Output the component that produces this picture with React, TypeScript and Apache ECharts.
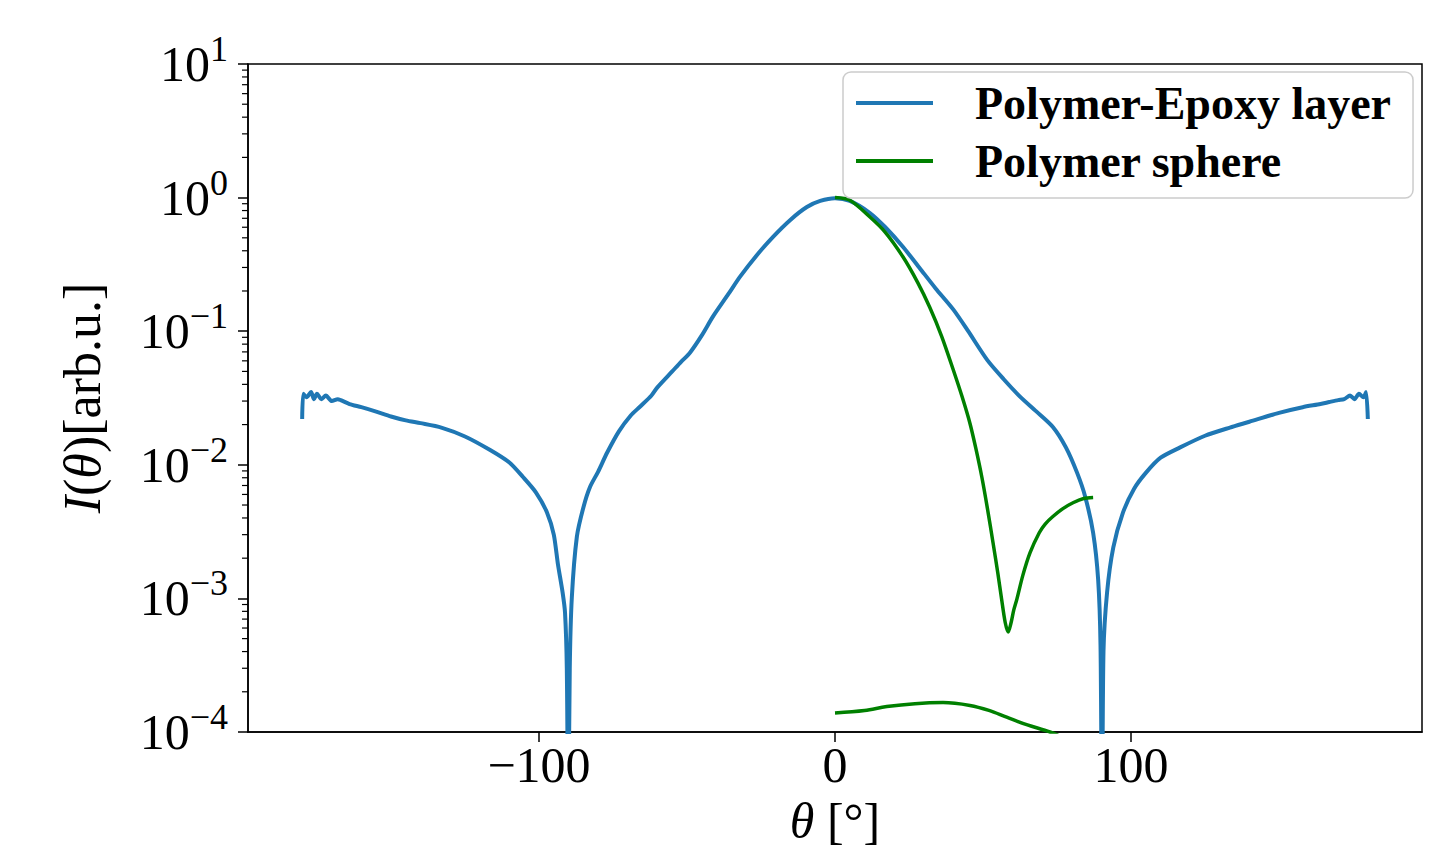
import React, { useEffect, useRef } from "react";
import * as echarts from "echarts";

const thetaBlue = [
  -180, -179.6, -178.5, -177, -176, -175, -173.5, -172, -170, -168, -167, -164, -160, -155, -150, -145, -140, -133,
  -125, -116.5, -110, -105.4, -101, -97.3, -95, -93.6, -92, -91.2, -90.6, -90.1, -89.6, -88.9, -87.2, -85, -82.8,
  -80, -77, -73, -69, -65.9, -62, -60, -55, -52, -49, -45, -41.2, -36, -32, -26, -21, -15, -9.5, -5, 0,
  5, 11.8, 17, 23, 28.7, 34, 40, 45, 51.4, 57, 62.5, 68, 73.6, 78, 81.8, 84.5, 87.2, 88.9, 89.7, 90.2, 90.7,
  91.9, 94, 97.3, 101, 105, 110, 116.6, 125, 133.4, 140, 150, 158, 164, 167, 170, 172, 174, 175.5, 177, 178.5,
  179.4, 180,
];
const intensityBlue = [
  0.022, 0.034, 0.032, 0.035, 0.031, 0.034, 0.031, 0.033, 0.030, 0.031, 0.0305, 0.0285, 0.027, 0.025, 0.023,
  0.0215, 0.0205, 0.019, 0.0163, 0.0129, 0.0104, 0.0081, 0.0062, 0.0044, 0.0030, 0.0018, 0.0011, 0.00078,
  0.0003, 0.00002, 0.0003, 0.00102, 0.0029, 0.0048, 0.0068, 0.0089, 0.0123, 0.0178, 0.0234, 0.0272, 0.033,
  0.038, 0.050, 0.059, 0.069, 0.093, 0.129, 0.19, 0.257, 0.38, 0.507, 0.684, 0.85, 0.944, 0.99,
  0.944, 0.767, 0.6, 0.427, 0.295, 0.209, 0.145, 0.1, 0.061, 0.0437, 0.0324, 0.0251, 0.0192, 0.0135, 0.0087,
  0.0058, 0.0031, 0.00138, 0.00044, 0.00002, 0.0004, 0.0011, 0.0024, 0.0044, 0.0066, 0.0087, 0.0113, 0.0135,
  0.0165, 0.019, 0.021, 0.0245, 0.027, 0.0285, 0.0295, 0.0305, 0.031, 0.033, 0.031, 0.034, 0.032, 0.035, 0.022,
];

// Polymer sphere (calculated), upper branch
const thetaGreenA = [
  0, 5, 11.8, 17, 23, 28, 32, 36, 40, 43, 45.6, 47.6, 49.6, 51.5, 53.4, 55, 56.3, 57.5, 58.5, 59.5, 60.4, 61.4,
  63.5, 65.9, 69, 71, 73.6, 77, 80.4, 84, 87.2,
];
const intensityGreenA = [
  1.0, 0.955, 0.716, 0.55, 0.359, 0.23, 0.151, 0.092, 0.051, 0.032, 0.0204, 0.0132, 0.0081, 0.0047, 0.0026,
  0.00155, 0.00098, 0.00066, 0.00056, 0.00066, 0.00082, 0.00098, 0.0015, 0.0022, 0.0031, 0.0036, 0.0041, 0.0047,
  0.0052, 0.0056, 0.0057,
];

// Polymer sphere, lower branch
const thetaGreenB = [0, 10, 17.5, 27, 36.5, 45.6, 52, 58, 65, 72.6, 80, 87.2];
const intensityGreenB = [
  1.39e-4, 1.45e-4, 1.55e-4, 1.63e-4, 1.66e-4, 1.58e-4, 1.45e-4, 1.29e-4, 1.13e-4, 1.0e-4, 0.85e-4, 0.72e-4,
];

const xTicks = [-100, 0, 100];
const yTicks = [1e-4, 1e-3, 1e-2, 1e-1, 1e0, 1e1];
const minorDecades = [1e-4, 1e-3, 1e-2, 1e-1, 1e0];
const minorMultipliers = [2, 3, 4, 5, 6, 7, 8, 9];
const yMinorTicks = minorDecades.flatMap((d) => minorMultipliers.map((m) => m * d));

const seriesNames = ["Polymer-Epoxy layer", "Polymer sphere"];

const FONT = "Liberation Serif";

export default function App() {
  const ref = useRef<HTMLDivElement>(null);

  useEffect(() => {
    if (!ref.current) return;
    const chart = echarts.init(ref.current, undefined, { renderer: "svg" });

    const zip = (xs: number[], ys: number[]) => xs.map((x, i) => [x, ys[i]]);

    const supText = (v: number) => {
      const e = Math.round(Math.log10(v));
      const s = e < 0 ? "\u2212" + -e : String(e);
      return `{b|10}{s|${s}}`;
    };

    chart.setOption({
      animation: false,
      backgroundColor: "#ffffff",
      grid: {
        left: 248,
        right: 20,
        top: 64,
        bottom: 132,
        show: true,
        borderColor: "#000",
        borderWidth: 1.5,
        backgroundColor: "transparent",
      },
      legend: {
        data: seriesNames,
        orient: "vertical",
        left: 843,
        top: 72,
        padding: [8, 22, 14, 13],
        itemGap: 12,
        itemWidth: 77,
        itemHeight: 4,
        icon: "rect",
        selectedMode: false,
        borderColor: "#cccccc",
        borderWidth: 1.5,
        borderRadius: 8,
        backgroundColor: "rgba(255,255,255,0.8)",
        formatter: (name: string) => `{sp|}{t|${name}}`,
        textStyle: {
          fontFamily: FONT,
          fontWeight: "bold",
          fontSize: 46,
          color: "#000",
          lineHeight: 46,
          rich: {
            sp: { width: 37 },
            t: { fontFamily: FONT, fontWeight: "bold", fontSize: 46, lineHeight: 46, color: "#000" },
          },
        },
      },
      xAxis: {
        type: "value",
        min: -198.3,
        max: 198.3,
        name: "{i|θ}{r| [°]}",
        nameLocation: "middle",
        nameGap: 64,
        nameTextStyle: {
          fontFamily: FONT,
          fontSize: 50,
          color: "#000",
          rich: {
            i: { fontFamily: FONT, fontStyle: "italic", fontSize: 50, color: "#000" },
            r: { fontFamily: FONT, fontSize: 50, color: "#000" },
          },
        },
        splitLine: { show: false },
        axisLine: { show: true, onZero: false, lineStyle: { color: "#000", width: 1.5 } },
        axisTick: {
          show: true,
          inside: false,
          length: 10,
          customValues: xTicks,
          lineStyle: { color: "#000", width: 1.5 },
        },
        axisLabel: {
          show: true,
          customValues: xTicks,
          margin: 8,
          fontFamily: FONT,
          fontSize: 50,
          color: "#000",
          formatter: (v: number) => (v < 0 ? "\u2212" + -v : String(v)),
        },
      },
      yAxis: {
        type: "log",
        logBase: 10,
        min: 1e-4,
        max: 10,
        name: "{i|I}{r|(}{i|θ}{r|)[arb.u.]}",
        nameLocation: "middle",
        nameGap: 140,
        nameTextStyle: {
          fontFamily: FONT,
          fontSize: 52,
          color: "#000",
          rich: {
            i: { fontFamily: FONT, fontStyle: "italic", fontSize: 52, color: "#000" },
            r: { fontFamily: FONT, fontSize: 52, color: "#000" },
          },
        },
        splitLine: { show: false },
        axisLine: { show: true, onZero: false, lineStyle: { color: "#000", width: 1.5 } },
        axisTick: {
          show: true,
          inside: false,
          length: 10,
          customValues: yTicks,
          lineStyle: { color: "#000", width: 1.5 },
        },
        minorTick: { show: false },
        axisLabel: {
          show: true,
          customValues: yTicks,
          margin: 20,
          formatter: supText,
          rich: {
            b: { fontFamily: FONT, fontSize: 50, lineHeight: 66, color: "#000" },
            s: { fontFamily: FONT, fontSize: 36, lineHeight: 36, verticalAlign: "top", color: "#000" },
          },
        },
      },
      series: [
        {
          name: seriesNames[0],
          type: "line",
          data: zip(thetaBlue, intensityBlue),
          showSymbol: false,
          symbol: "none",
          smooth: 0.25,
          clip: true,
          color: "#1f77b4",
          lineStyle: { color: "#1f77b4", width: 4 },
          z: 2,
        },
        {
          name: seriesNames[1],
          type: "line",
          data: zip(thetaGreenA, intensityGreenA),
          showSymbol: false,
          symbol: "none",
          smooth: 0.3,
          clip: true,
          color: "#008000",
          lineStyle: { color: "#008000", width: 3.5 },
          z: 3,
        },
        {
          name: seriesNames[1],
          type: "line",
          data: zip(thetaGreenB, intensityGreenB),
          showSymbol: false,
          symbol: "none",
          smooth: 0.35,
          clip: true,
          color: "#008000",
          lineStyle: { color: "#008000", width: 3.5 },
          z: 3,
        },
        {
          name: "minor-ticks",
          type: "custom",
          silent: true,
          clip: false,
          data: yMinorTicks.map((v) => [0, v]),
          encode: { x: 0, y: 1 },
          renderItem: (params: any, api: any) => {
            const y = api.coord([0, api.value(1)])[1];
            const cs = params.coordSys;
            return {
              type: "line",
              shape: { x1: cs.x - 6, y1: y, x2: cs.x, y2: y },
              style: { stroke: "#000", lineWidth: 1.2 },
            };
          },
          z: 5,
        },
      ],
    });

    return () => chart.dispose();
  }, []);

  return (
    <div
      ref={ref}
      style={{ position: "absolute", left: 0, top: 0, width: 1442, height: 864, background: "#fff" }}
    />
  );
}
